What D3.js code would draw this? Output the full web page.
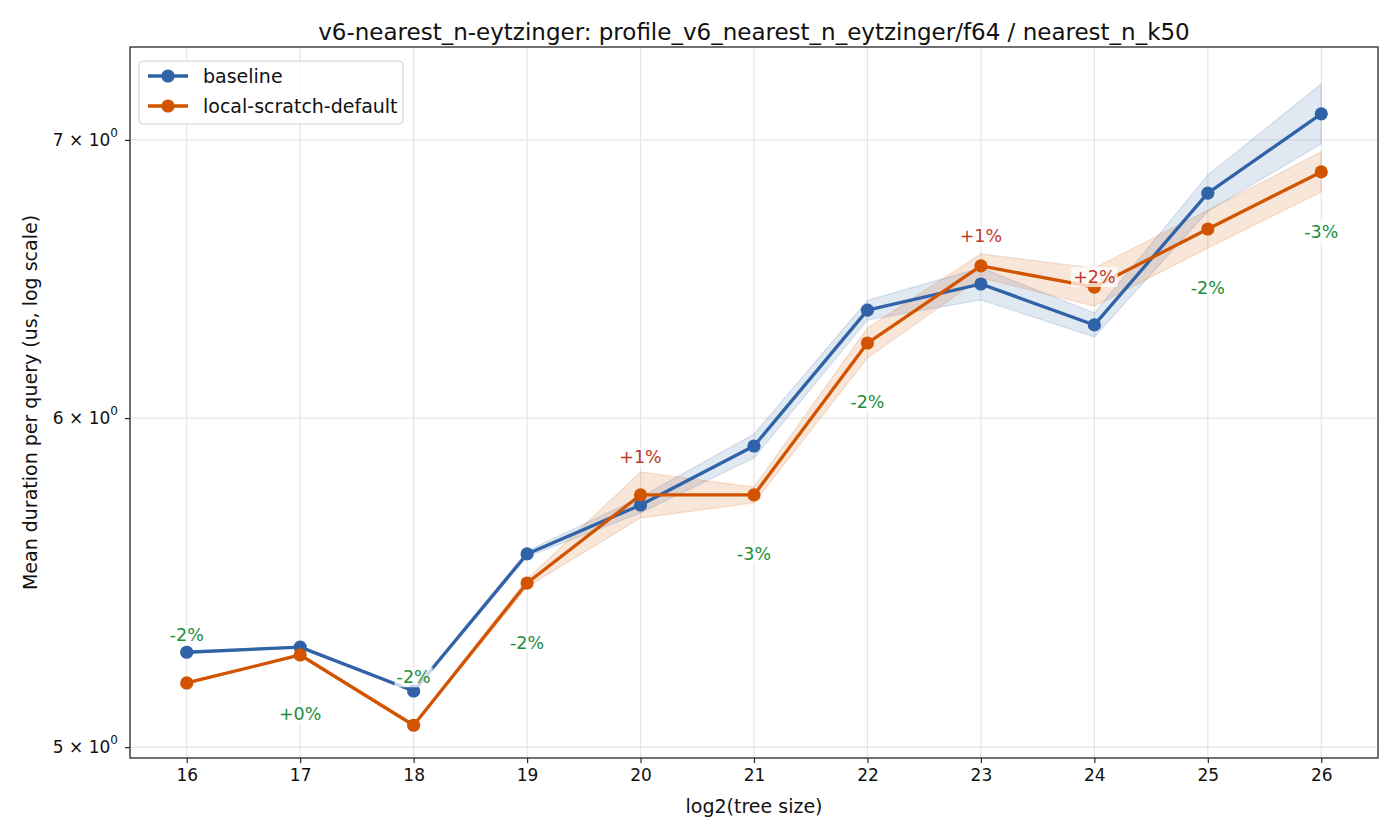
<!DOCTYPE html>
<html>
<head>
<meta charset="utf-8">
<script src="https://cdn.jsdelivr.net/npm/d3@7"></script>
<style>
  body { margin: 0; background: #fff; }
  svg { font-family: "DejaVu Sans", sans-serif; }
</style>
</head>
<body>
<div id="container"></div>
<script>
// data
const sizes = [16, 17, 18, 19, 20, 21, 22, 23, 24, 25, 26];

const baselineMean = [5.270, 5.285, 5.158, 5.565, 5.718, 5.908, 6.370, 6.463, 6.318, 6.797, 7.102];
const baselineLow  = [5.267, 5.282, 5.155, 5.556, 5.693, 5.869, 6.335, 6.406, 6.276, 6.729, 6.985];
const baselineHigh = [5.273, 5.288, 5.161, 5.574, 5.743, 5.947, 6.405, 6.521, 6.360, 6.865, 7.221];

const localMean = [5.181, 5.262, 5.061, 5.476, 5.750, 5.750, 6.255, 6.528, 6.452, 6.663, 6.877];
const localLow  = [5.178, 5.259, 5.058, 5.464, 5.677, 5.725, 6.203, 6.485, 6.384, 6.593, 6.801];
const localHigh = [5.184, 5.265, 5.064, 5.488, 5.824, 5.775, 6.307, 6.572, 6.520, 6.733, 6.954];

const pctLabels = ["-2%", "+0%", "-2%", "-2%", "+1%", "-3%", "-2%", "+1%", "+2%", "-2%", "-3%"];
// label placement offset (px) from the local-scratch point
const labelDy = [-48, 59, -48, 60, -38, 59, 59, -30, -10, 59, 60];

const yTicks = [5, 6, 7];

const series = [
    { name: "baseline", color: "#2f62a7", mean: baselineMean, low: baselineLow, high: baselineHigh },
    { name: "local-scratch-default", color: "#d35400", mean: localMean, low: localLow, high: localHigh }
];

const W = 1400, H = 840;
const margin = { top: 47, right: 22, bottom: 82, left: 130 };
const width = W - margin.left - margin.right,
      height = H - margin.top - margin.bottom;

const svg = d3.select("#container").append("svg")
    .attr("width", W)
    .attr("height", H);

const g = svg.append("g")
    .attr("transform", `translate(${margin.left},${margin.top})`);

const x = d3.scaleLinear().domain([15.5, 26.5]).range([0, width]);
const y = d3.scaleLog().domain([4.97, 7.37]).range([height, 0]);

// grid
g.append("g").selectAll("line")
    .data(sizes)
    .enter().append("line")
    .attr("x1", d => x(d)).attr("x2", d => x(d))
    .attr("y1", 0).attr("y2", height)
    .attr("stroke", "#e5e5e5").attr("stroke-width", 1.2);

g.append("g").selectAll("line")
    .data(yTicks)
    .enter().append("line")
    .attr("x1", 0).attr("x2", width)
    .attr("y1", d => y(d)).attr("y2", d => y(d))
    .attr("stroke", "#e5e5e5").attr("stroke-width", 1.2);

// bands
const area = d3.area()
    .x((d, i) => x(sizes[i]))
    .y0(d => y(d[0]))
    .y1(d => y(d[1]));

series.forEach(s => {
    const bandData = s.low.map((v, i) => [v, s.high[i]]);
    g.append("path")
        .datum(bandData)
        .attr("d", area)
        .attr("fill", s.color)
        .attr("fill-opacity", 0.15)
        .attr("stroke", s.color)
        .attr("stroke-opacity", 0.15)
        .attr("stroke-width", 1.3);
});

// lines + markers
const line = d3.line()
    .x((d, i) => x(sizes[i]))
    .y(d => y(d));

series.forEach(s => {
    g.append("path")
        .datum(s.mean)
        .attr("d", line)
        .attr("fill", "none")
        .attr("stroke", s.color)
        .attr("stroke-width", 3.3)
        .attr("stroke-linejoin", "round");

    g.append("g").selectAll("circle")
        .data(s.mean)
        .enter().append("circle")
        .attr("cx", (d, i) => x(sizes[i]))
        .attr("cy", d => y(d))
        .attr("r", 6.6)
        .attr("fill", s.color);
});

// percent labels
const labels = g.append("g");
pctLabels.forEach((t, i) => {
    const cx = x(sizes[i]);
    const cy = y(localMean[i]) + labelDy[i];
    const col = t.startsWith("+") && t !== "+0%" ? "#c0392b" : "#1e8c3a";
    const lg = labels.append("g");
    const txt = lg.append("text")
        .attr("x", cx)
        .attr("y", cy)
        .attr("text-anchor", "middle")
        .attr("dominant-baseline", "central")
        .attr("font-size", 17.5)
        .attr("fill", col)
        .text(t);
    const bb = txt.node().getBBox();
    lg.insert("rect", "text")
        .attr("x", bb.x - 2)
        .attr("y", bb.y)
        .attr("width", bb.width + 4)
        .attr("height", bb.height)
        .attr("fill", "#fff")
        .attr("fill-opacity", 0.75);
});

// frame
g.append("rect")
    .attr("width", width).attr("height", height)
    .attr("fill", "none")
    .attr("stroke", "#262626")
    .attr("stroke-width", 1.3);

// x axis
const xAxis = g.append("g")
    .attr("transform", `translate(0,${height})`)
    .call(d3.axisBottom(x).tickValues(sizes).tickFormat(d3.format("d")).tickSize(5).tickPadding(6));
xAxis.select(".domain").remove();
xAxis.selectAll("line").attr("stroke", "#262626").attr("stroke-width", 1.2);
xAxis.selectAll("text").attr("font-size", 17).attr("fill", "#111").attr("font-family", "DejaVu Sans");

// y axis
const yAxis = g.append("g")
    .call(d3.axisLeft(y).tickValues(yTicks).tickFormat("").tickSize(5));
yAxis.select(".domain").remove();
yAxis.selectAll("line").attr("stroke", "#262626").attr("stroke-width", 1.2);

const yLab = g.append("g");
yTicks.forEach(v => {
    const t = yLab.append("text")
        .attr("x", -12)
        .attr("y", y(v))
        .attr("text-anchor", "end")
        .attr("dominant-baseline", "central")
        .attr("font-size", 17)
        .attr("fill", "#111");
    t.append("tspan").text(`${v} \u00d7 10`);
    t.append("tspan").attr("dy", -7).attr("font-size", 12).text("0");
});

// axis titles
svg.append("text")
    .attr("x", margin.left + width / 2)
    .attr("y", 813)
    .attr("text-anchor", "middle")
    .attr("font-size", 19)
    .attr("fill", "#111")
    .text("log2(tree size)");

svg.append("text")
    .attr("transform", `translate(37,${margin.top + height / 2}) rotate(-90)`)
    .attr("text-anchor", "middle")
    .attr("font-size", 19)
    .attr("fill", "#111")
    .text("Mean duration per query (us, log scale)");

svg.append("text")
    .attr("x", margin.left + width / 2)
    .attr("y", 40)
    .attr("text-anchor", "middle")
    .attr("font-size", 23)
    .attr("fill", "#111")
    .text("v6-nearest_n-eytzinger: profile_v6_nearest_n_eytzinger/f64 / nearest_n_k50");

// legend
const leg = g.append("g").attr("transform", "translate(9,14)");
leg.append("rect")
    .attr("width", 264).attr("height", 63)
    .attr("rx", 4)
    .attr("fill", "#fff").attr("fill-opacity", 0.8)
    .attr("stroke", "#d0d0d0");
series.forEach((s, i) => {
    const row = leg.append("g").attr("transform", `translate(0,${15 + i * 30})`);
    row.append("line")
        .attr("x1", 9).attr("x2", 49)
        .attr("stroke", s.color).attr("stroke-width", 3.3);
    row.append("circle")
        .attr("cx", 29).attr("r", 6.6).attr("fill", s.color);
    row.append("text")
        .attr("x", 64)
        .attr("dominant-baseline", "central")
        .attr("font-size", 19)
        .attr("fill", "#111")
        .text(s.name);
});
</script>
</body>
</html>
